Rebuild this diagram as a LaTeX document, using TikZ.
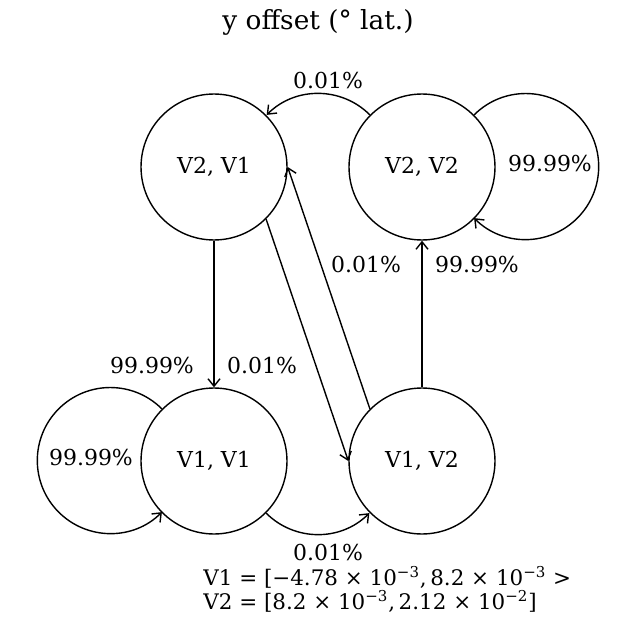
\documentclass[tikz,border=0pt]{standalone}
\usepackage{fontspec}
\setmainfont{DejaVu Serif}
\usetikzlibrary{arrows.meta}
\tikzset{
	state/.style={circle, draw, line width=0.28mm, minimum size=2.92cm, inner sep=0pt, font=\fontsize{12.5}{15}\selectfont},
	prob/.style={font=\fontsize{12.5}{15}\selectfont, inner sep=0pt},
	legend/.style={font=\fontsize{12.2}{15}\selectfont, inner sep=0pt, anchor=base west},
	trans/.style={line width=0.28mm, -{Straight Barb[length=1.5mm, width=2.4mm]}}
}

\begin{document}
\begin{tikzpicture}[x=0.02cm, y=0.02cm]
			%%%%% START %%%%%
			\useasboundingbox (0, 0) rectangle (636, -622);
			
			\node[font=\fontsize{15}{18}\selectfont] (title) at (318, -22) {y offset (° lat.)};
			
			\node[state] (v21) at (214, -167) {V2, V1};
			\node[state] (v22) at (422, -167) {V2, V2};
			\node[state] (v11) at (214, -461) {V1, V1};
			\node[state] (v12) at (422, -461) {V1, V2};
			
			\draw[trans] (v22.135) arc[start angle=45, end angle=135, radius=1.46cm];
			\draw[trans] (v22.45) arc[start angle=135, end angle=-135, radius=1.46cm];
			\draw[trans] (v11.-45) arc[start angle=225, end angle=315, radius=1.46cm];
			\draw[trans] (v11.135) arc[start angle=45, end angle=315, radius=1.46cm];
			
			\draw[trans] (v21) -- (v11);
			\draw[trans] (v12) -- (v22);
			\draw[trans] (v21.-45) -- (v12.west);
			\draw[trans] (v12.135) -- (v21.east);
			
			\node[prob] (p2221) at (328, -81) {0.01\%};
			\node[prob] (p2222) at (550, -164) {99.99\%};
			\node[prob] (p1222) at (477, -265) {99.99\%};
			\node[prob] (p1221) at (366, -265) {0.01\%};
			\node[prob] (p2111) at (152, -366) {99.99\%};
			\node[prob] (p2112) at (262, -366) {0.01\%};
			\node[prob] (p1111) at (91, -458) {99.99\%};
			\node[prob] (p1112) at (328, -553) {0.01\%};
			
			\node[legend] (leg1) at (203, -585) {V1 = [−4.78 × 10\textsuperscript{−3},\,8.2 × 10\textsuperscript{−3} >};
			\node[legend] (leg2) at (203, -609) {V2 = [8.2 × 10\textsuperscript{−3},\,2.12 × 10\textsuperscript{−2}]};
			
			%%%%% END %%%%%
\end{tikzpicture}
\end{document}
